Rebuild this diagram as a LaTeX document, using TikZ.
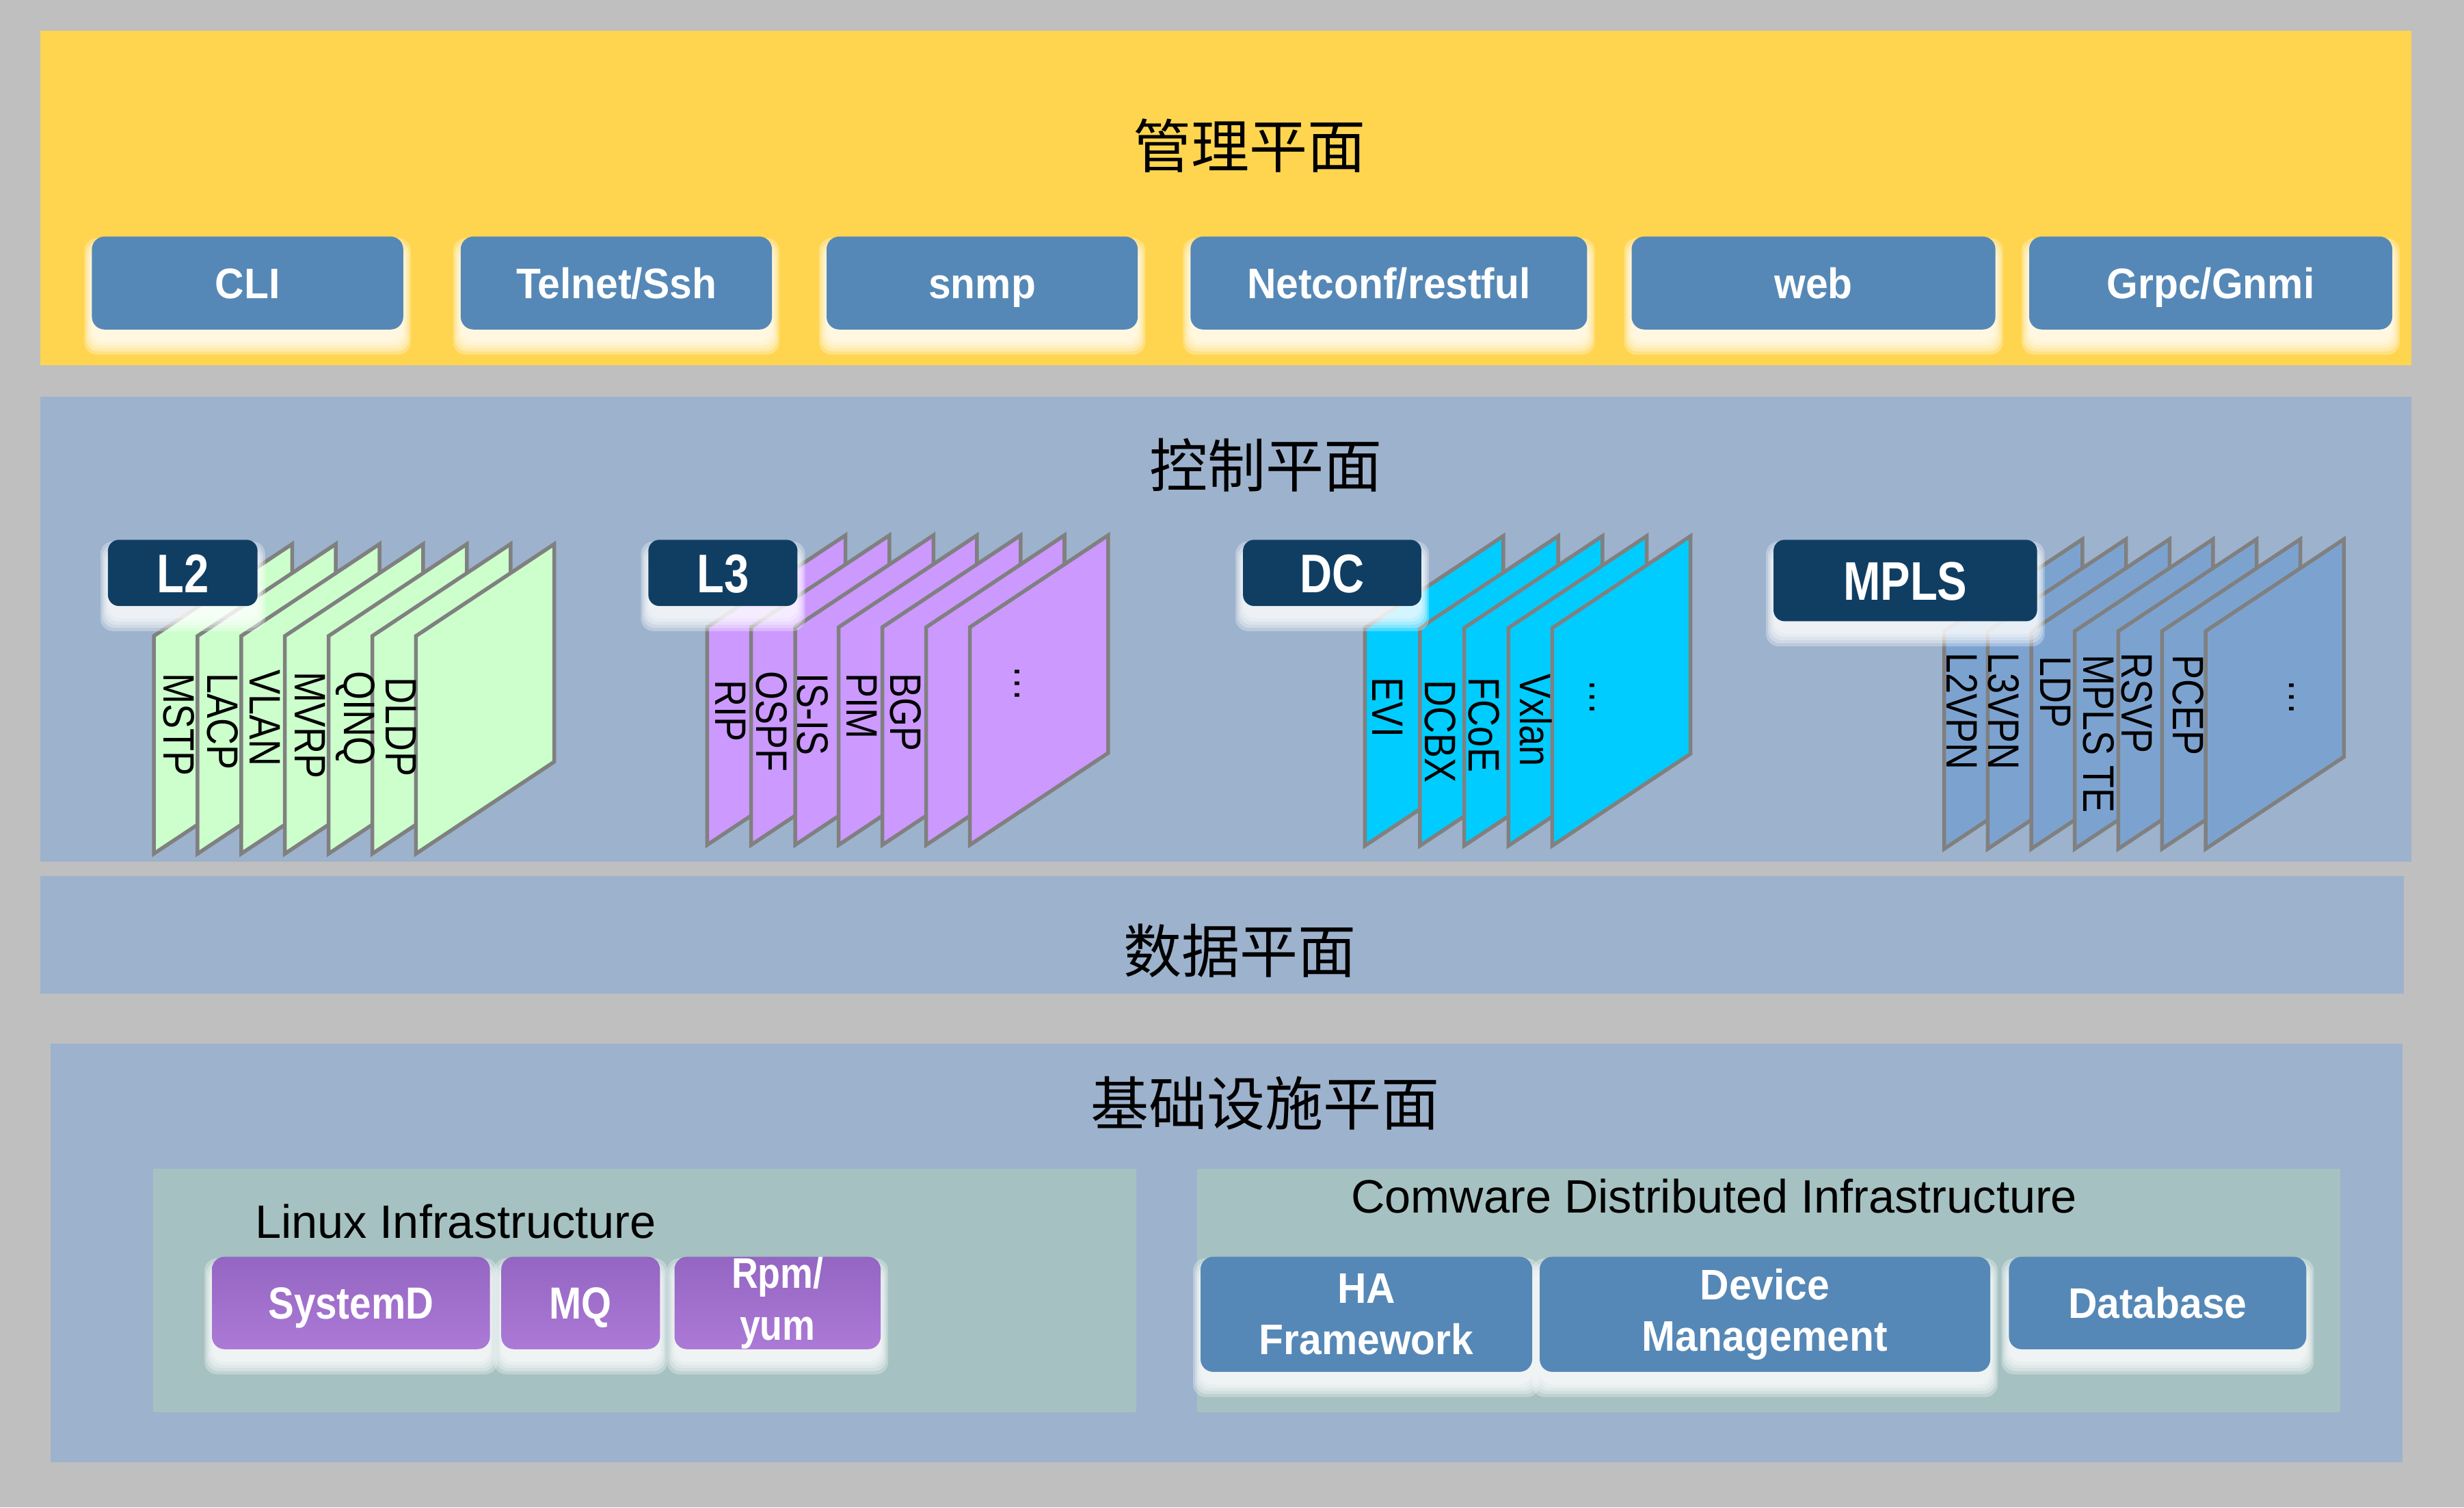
\documentclass[tikz,border=0pt]{standalone}
\usepackage{fontspec}
\setmainfont{Liberation Sans}
\newfontfamily\cjk{Noto Sans CJK SC}
\newfontfamily\pagefont[FakeStretch=0.84]{Liberation Sans}
\newfontfamily\btnfont[FakeStretch=0.94]{Liberation Sans}
\newfontfamily\tagfont[FakeStretch=0.82]{Liberation Sans}
\newfontfamily\purpfont[FakeStretch=0.86]{Liberation Sans}

\definecolor{bggray}{RGB}{191,191,191}
\definecolor{mgmtyellow}{RGB}{255,213,80}
\definecolor{planeblue}{RGB}{157,178,204}
\definecolor{subbox}{RGB}{166,193,193}
\definecolor{btnblue}{RGB}{85,136,182}
\definecolor{tagnavy}{RGB}{16,62,99}
\definecolor{pgreen}{RGB}{204,255,204}
\definecolor{plav}{RGB}{204,153,255}
\definecolor{pcyan}{RGB}{0,204,255}
\definecolor{pmpls}{RGB}{124,163,208}
\definecolor{pborder}{RGB}{128,128,128}
\definecolor{purpT}{RGB}{148,101,194}
\definecolor{purpB}{RGB}{172,122,214}

\tikzset{
  title/.style={inner sep=0, font={\cjk\fontsize{18.5pt}{22pt}\selectfont}},
  btn/.style={fill=btnblue, rounded corners=4pt, inner sep=0, outer sep=0, text=white, align=center,
    font={\btnfont\bfseries\fontsize{13.6pt}{16.3pt}\selectfont}},
  oneline/.style={text height=9.8pt, text depth=0pt},
  purpbtn/.style={top color=purpT, bottom color=purpB, rounded corners=4pt, inner sep=0, outer sep=0,
    text=white, align=center, font={\purpfont\bfseries\fontsize{14.3pt}{16.5pt}\selectfont}},
  tagbox/.style={fill=tagnavy, rounded corners=3.5pt, inner sep=0, outer sep=0, text=white,
    text height=12.4pt, text depth=0pt,
    font={\tagfont\bfseries\fontsize{17.3pt}{20pt}\selectfont}},
  pglabel/.style={rotate=-90, anchor=west, inner sep=0, font={\pagefont\fontsize{14pt}{16pt}\selectfont}},
  pageline/.style={draw=pborder, line width=1.2pt},
  subtitle/.style={inner sep=0, font={\fontsize{14.9pt}{17pt}\selectfont}},
}

% box node from corner coordinates (units: reference px at 1568 wide)
\newcommand\boxnode[7]{%
  \pgfmathsetmacro\mybw{(#5-#3)*0.5}%
  \pgfmathsetmacro\mybh{(#6-#4)*0.5}%
  \node (#1) [#2, minimum width=\mybw pt, minimum height=\mybh pt] at ({(#3+#5)/2},{(#4+#6)/2}) {#7};%
}
% soft white glow below a box
\newcommand\glowat[4]{%
  \foreach \gd in {8,6,4,2,0}{%
    \fill[white,opacity=0.3,rounded corners=4pt] ({#1-\gd*0.6},{#2+9-\gd}) rectangle ({#3+\gd*0.6},{#4+8+\gd});
  }}
% one page of a stack
\newcommand\stackpage[3]{%
  \draw[pageline, fill=#3] (#1,#2) -- ({#1+88},{#2-58.5}) -- ({#1+88},{#2+80}) -- (#1,{#2+138.5}) -- cycle;}

\begin{document}
\begin{tikzpicture}[x=0.5pt,y=-0.5pt]
\useasboundingbox (0,0) rectangle (1568,959);
\fill[bggray] (0,0) rectangle (1568,959);

% ---------------- management plane
\fill[mgmtyellow] (25.8,19.5) rectangle (1534.5,232.4);
\node (mgmt) [title] at (795,92.5) {管理平面};
\glowat{58.5}{150.5}{256.6}{209.6}
\glowat{293.2}{150.5}{491.2}{209.6}
\glowat{526}{150.5}{724}{209.6}
\glowat{757.6}{150.5}{1010}{209.6}
\glowat{1038.3}{150.5}{1269.8}{209.6}
\glowat{1291.3}{150.5}{1522.3}{209.6}
\boxnode{cli}{btn,oneline}{58.5}{150.5}{256.6}{209.6}{CLI}
\boxnode{telnet}{btn,oneline}{293.2}{150.5}{491.2}{209.6}{Telnet/Ssh}
\boxnode{snmp}{btn,oneline}{526}{150.5}{724}{209.6}{snmp}
\boxnode{netconf}{btn,oneline}{757.6}{150.5}{1010}{209.6}{Netconf/restful}
\boxnode{web}{btn,oneline}{1038.3}{150.5}{1269.8}{209.6}{web}
\boxnode{grpc}{btn,oneline}{1291.3}{150.5}{1522.3}{209.6}{Grpc/Gnmi}

% ---------------- control plane
\fill[planeblue] (25.8,252.4) rectangle (1534.5,548.2);
\node (ctrl) [title] at (805.5,296) {控制平面};

% L2 stack
\foreach \px in {97.9,125.7,153.5,181.3,209.1,236.9,264.7}{\stackpage{\px}{404.6}{pgreen}}
\node (mstp) [pglabel] at (113.8,427.8) {MSTP};
\node (lacp) [pglabel] at (141.5,427.8) {LACP};
\node (vlan) [pglabel] at (168.7,425.6) {VLAN};
\node (mvrp) [pglabel] at (197.3,427.1) {MVRP};
\node (qinq) [pglabel] at (226,426.4) {QINQ};
\node (dldp) [pglabel] at (255.1,430.7) {DLDP};
\glowat{68.7}{343.4}{163.9}{385.5}
\boxnode{tagl2}{tagbox}{68.7}{343.4}{163.9}{385.5}{L2}

% L3 stack
\foreach \px in {450,478,506,533.7,561.5,589.4,617.2}{\stackpage{\px}{399}{plav}}
\node (rip) [pglabel] at (465,432.2) {RIP};
\node (ospf) [pglabel] at (491,426.4) {OSPF};
\node (isis) [pglabel] at (517,427.8) {IS-IS};
\node (pim) [pglabel] at (548.4,427.8) {PIM};
\node (bgp) [pglabel] at (576.4,427.8) {BGP};
\node (l3dots) [pglabel] at (647.3,422.8) {…};
\glowat{412.6}{343.4}{507.5}{385.5}
\boxnode{tagl3}{tagbox}{412.6}{343.4}{507.5}{385.5}{L3}

% DC stack
\foreach \px in {868.6,903.6,931.7,959.9,987.8}{\stackpage{\px}{399.5}{pcyan}}
\node (evi) [pglabel] at (883.2,430.7) {EVI};
\node (dcbx) [pglabel] at (916.6,432.2) {DCBX};
\node (fcoe) [pglabel] at (944.3,430.7) {FCoE};
\node (vxlan) [pglabel] at (977.3,428.5) {Vxlan};
\node (dcdots) [pglabel] at (1013.3,431.4) {…};
\glowat{791}{343.4}{904.5}{385.5}
\boxnode{tagdc}{tagbox}{791}{343.4}{904.5}{385.5}{DC}

% MPLS stack
\foreach \px in {1237.2,1264.9,1292.6,1320.3,1348,1375.8,1403.6}{\stackpage{\px}{401.5}{pmpls}}
\node (l2vpn) [pglabel] at (1248.8,414.8) {L2VPN};
\node (l3vpn) [pglabel] at (1275,414.8) {L3VPN};
\node (ldp) [pglabel] at (1308,416.9) {LDP};
\node (mplste) [pglabel] at (1335.5,416.2) {MPLS TE};
\node (rsvp) [pglabel] at (1359.9,414.8) {RSVP};
\node (pcep) [pglabel] at (1392.3,416.2) {PCEP};
\node (mplsdots) [pglabel] at (1458.2,431.4) {…};
\glowat{1128.6}{343.4}{1296.3}{395.2}
\boxnode{tagmpls}{tagbox}{1128.6}{343.4}{1296.3}{395.2}{MPLS}

% ---------------- data plane
\fill[planeblue] (25.8,557.2) rectangle (1529.7,632);
\node (data) [title] at (789,604.7) {数据平面};

% ---------------- infrastructure plane
\fill[planeblue] (32,664) rectangle (1528.8,930);
\node (infra) [title] at (805,702) {基础设施平面};

\fill[subbox] (97.4,743.7) rectangle (723,898.5);
\fill[subbox] (761.7,743.7) rectangle (1489.3,898.5);
\node (linux) [subtitle, anchor=base west] at (162,787.5) {Linux Infrastructure};
\node (comware) [subtitle, anchor=base] at (1090.8,771.5) {Comware Distributed Infrastructure};

\glowat{134.9}{799.5}{311.8}{858.3}
\glowat{319}{799.5}{420}{858.3}
\glowat{429.2}{799.5}{560.4}{858.3}
\boxnode{systemd}{purpbtn,text height=10.2pt,text depth=0pt}{134.9}{799.5}{311.8}{858.3}{SystemD}
\boxnode{mq}{purpbtn,text height=10.2pt,text depth=0pt}{319}{799.5}{420}{858.3}{MQ}
\boxnode{rpm}{purpbtn, font={\purpfont\bfseries\fontsize{13.6pt}{16.5pt}\selectfont}}{429.2}{799.5}{560.4}{858.3}{Rpm/\\yum}

\glowat{764}{799.5}{975}{872.7}
\glowat{979.8}{799.5}{1266.5}{872.7}
\glowat{1278.4}{799.5}{1467.6}{858.3}
\boxnode{ha}{btn}{764}{799.5}{975}{872.7}{HA\\Framework}
\boxnode{devmgmt}{btn}{979.8}{799.5}{1266.5}{872.7}{Device\\Management}
\boxnode{database}{btn,oneline}{1278.4}{799.5}{1467.6}{858.3}{Database}
\end{tikzpicture}
\end{document}
